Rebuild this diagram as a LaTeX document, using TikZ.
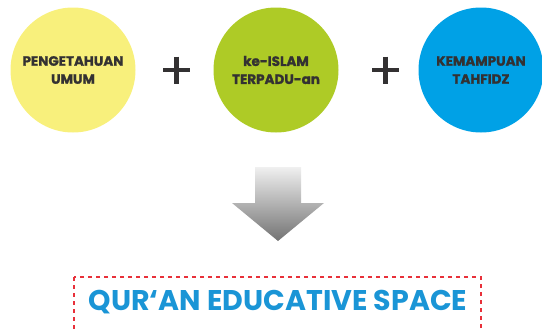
\documentclass[tikz,border=0pt]{standalone}
\usepackage{fontspec}
\setmainfont{Poppins}[BoldFont={* Bold}]
\newfontfamily\heavyfont{Poppins Bold}[FakeBold=1.3]
\usetikzlibrary{shapes.geometric}
\definecolor{cyel}{HTML}{F8F07C}
\definecolor{cgrn}{HTML}{AECB26}
\definecolor{cblu}{HTML}{00A1E6}
\definecolor{ctxt}{HTML}{333132}
\definecolor{ttl}{HTML}{1A95D6}
\definecolor{cred}{HTML}{E8303A}
\tikzset{
  ball/.style={circle, minimum size=125pt, inner sep=0pt, text=ctxt, align=center,
    font=\heavyfont\fontsize{13.5}{18}\selectfont},
  plussign/.style={minimum size=27pt, inner sep=0pt,
    path picture={\draw[ctxt, line width=4.6pt]
      (path picture bounding box.north) -- (path picture bounding box.south)
      (path picture bounding box.west) -- (path picture bounding box.east);}},
  frame/.style={draw=cred, line width=1.6pt, dash pattern=on 4pt off 4pt},
}
\begin{document}
\begin{tikzpicture}[x=1pt,y=-1pt]
\useasboundingbox (0,0) rectangle (542,330);
\node[ball, fill=cyel] (c1) at (73,70) {PENGETAHUAN\\UMUM};
\node[ball, fill=cgrn] (c2) at (276,70) {ke-ISLAM\\TERPADU-an};
\node[ball, fill=cblu] (c3) at (481,70) {KEMAMPUAN\\TAHFIDZ};
\node[plussign] (p1) at (176.5,70) {};
\node[plussign] (p2) at (385.5,70) {};
\shade[top color=black!6, bottom color=black!55]
  (255,167) -- (301,167) -- (301,203) -- (324,203) -- (278,241) -- (232,203) -- (255,203) -- cycle;
\draw[frame] (74,277) rectangle (481,331);
\node[text=ttl, font=\bfseries\fontsize{28.5}{30}\selectfont, inner sep=0pt] (t) at (278,302) {QUR‘AN EDUCATIVE SPACE};
\end{tikzpicture}
\end{document}
